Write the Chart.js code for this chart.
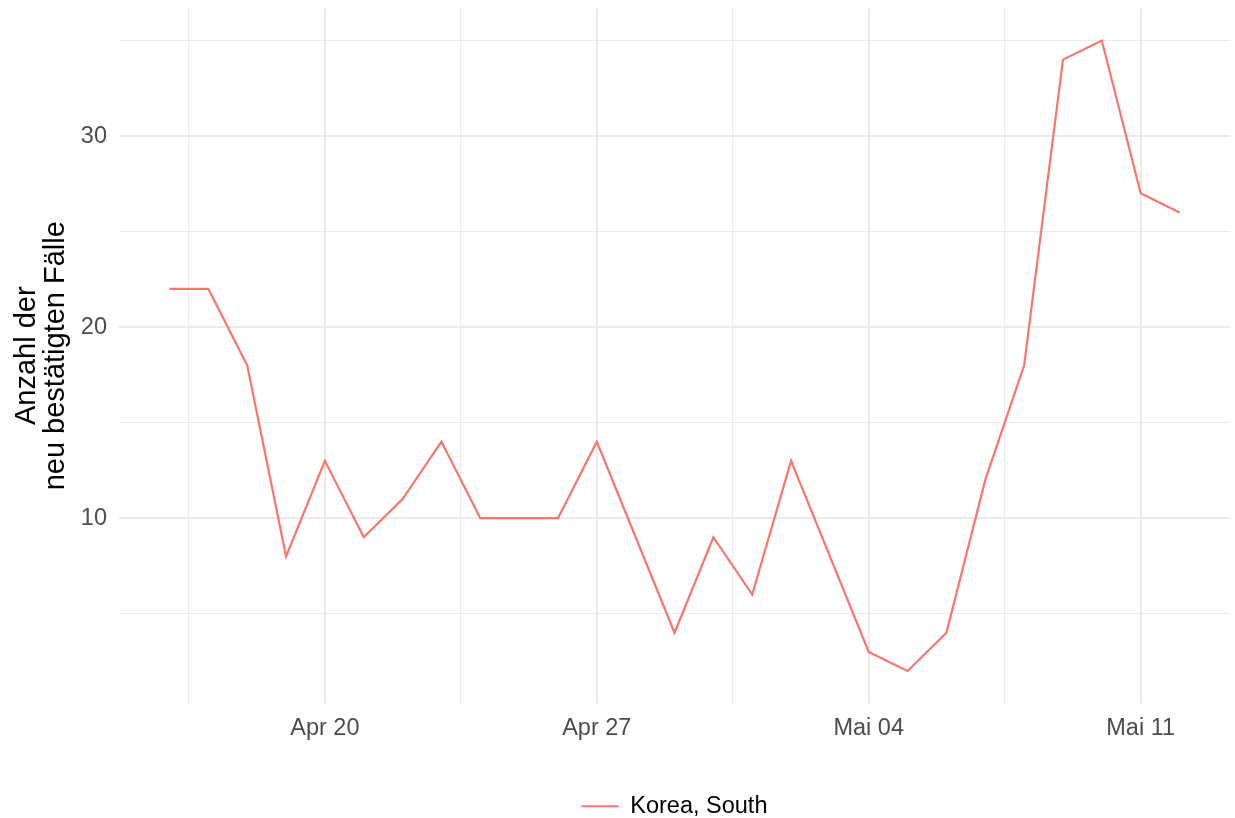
<!DOCTYPE html>
<html>
<head>
<meta charset="utf-8">
<script src="https://cdn.jsdelivr.net/npm/chart.js@4"></script>
<style>
  html, body { margin: 0; padding: 0; background: #ffffff; }
  #wrap { width: 1235px; height: 818px; }
</style>
</head>
<body>
<div id="wrap"><canvas id="chart" width="1235" height="818"></canvas></div>
<script>
// daily new confirmed cases, Korea, South
const dates = [
    "2020-04-16", "2020-04-17", "2020-04-18", "2020-04-19", "2020-04-20",
    "2020-04-21", "2020-04-22", "2020-04-23", "2020-04-24", "2020-04-25",
    "2020-04-26", "2020-04-27", "2020-04-28", "2020-04-29", "2020-04-30",
    "2020-05-01", "2020-05-02", "2020-05-03", "2020-05-04", "2020-05-05",
    "2020-05-06", "2020-05-07", "2020-05-08", "2020-05-09", "2020-05-10",
    "2020-05-11", "2020-05-12"
];
const newCases = [
    22, 22, 18, 8, 13,
    9, 11, 14, 10, 10,
    10, 14, 9, 4, 9,
    6, 13, 8, 3, 2,
    4, 12, 18, 34, 35,
    27, 26
];
const seriesName = "Korea, South";

// x ticks (major with labels, minor in between)
const xTickDates = ["2020-04-20", "2020-04-27", "2020-05-04", "2020-05-11"];
const xTickLabels = ["Apr 20", "Apr 27", "Mai 04", "Mai 11"];
const yMajorTicks = [10, 20, 30];
const yMinorTicks = [5, 15, 25, 35];

// days counted from 2020-04-00 so that Apr 20 = 20
const BASE = Date.UTC(2020, 3, 0);
function dayNum(s) {
    const p = s.split("-").map(Number);
    return (Date.UTC(p[0], p[1] - 1, p[2]) - BASE) / 86400000;
}

const xMajor = xTickDates.map(dayNum);
const xMinor = xMajor.map(d => d - 3.5);
const points = dates.map((d, i) => ({ x: dayNum(d), y: newCases[i] }));

// ggplot-like 5% expansion of both axes
const xs = points.map(p => p.x), ys = points.map(p => p.y);
const xPad = (Math.max(...xs) - Math.min(...xs)) * 0.05;
const yPad = (Math.max(...ys) - Math.min(...ys)) * 0.05;

const LINE = "#F8766D";
const GRID = "#ebebeb";
const FONT = "'Liberation Sans', Arial, sans-serif";

new Chart(document.getElementById("chart"), {
    type: "line",
    data: {
        datasets: [{
            label: seriesName,
            data: points,
            borderColor: LINE,
            backgroundColor: LINE,
            borderWidth: 2.2,
            pointRadius: 0,
            tension: 0,
            fill: false
        }]
    },
    options: {
        responsive: false,
        animation: false,
        devicePixelRatio: 1,
        layout: { padding: { top: 9, right: 5, left: 0, bottom: -10 } },
        plugins: {
            tooltip: { enabled: false },
            legend: {
                position: "bottom",
                fullSize: false,
                labels: {
                    usePointStyle: true,
                    pointStyle: "line",
                    pointStyleWidth: 37,
                    color: "#000000",
                    font: { family: FONT, size: 23.5 },
                    padding: 14
                }
            }
        },
        scales: {
            x: {
                type: "linear",
                min: Math.min(...xs) - xPad,
                max: Math.max(...xs) + xPad,
                afterBuildTicks: function(scale) {
                    scale.ticks = xMinor.concat(xMajor).sort((a, b) => a - b)
                        .map(v => ({ value: v }));
                },
                afterFit: function(scale) {
                    scale.height = 78;
                    scale.paddingLeft = 0;
                    scale.paddingRight = 0;
                },
                border: { display: false },
                grid: {
                    color: GRID,
                    drawTicks: false,
                    lineWidth: ctx => xMajor.includes(ctx.tick.value) ? 2.1 : 1.1
                },
                ticks: {
                    autoSkip: false,
                    maxRotation: 0,
                    padding: 12,
                    color: "#4d4d4d",
                    font: { family: FONT, size: 23.5 },
                    callback: function(value) {
                        const i = xMajor.indexOf(value);
                        return i >= 0 ? xTickLabels[i] : "";
                    }
                }
            },
            y: {
                type: "linear",
                min: Math.min(...ys) - yPad,
                max: Math.max(...ys) + yPad,
                afterBuildTicks: function(scale) {
                    scale.ticks = yMinorTicks.concat(yMajorTicks).sort((a, b) => a - b)
                        .map(v => ({ value: v }));
                },
                afterFit: function(scale) {
                    scale.width = 119;
                    scale.paddingTop = 0;
                    scale.paddingBottom = 0;
                },
                border: { display: false },
                grid: {
                    color: GRID,
                    drawTicks: false,
                    lineWidth: ctx => yMajorTicks.includes(ctx.tick.value) ? 2.1 : 1.1
                },
                ticks: {
                    padding: 12,
                    color: "#4d4d4d",
                    font: { family: FONT, size: 23.5 },
                    callback: function(value) {
                        return yMajorTicks.includes(value) ? String(value) : "";
                    }
                },
                title: {
                    display: true,
                    text: ["Anzahl der", "neu bestätigten Fälle"],
                    color: "#000000",
                    font: { family: FONT, size: 29, lineHeight: 1.0 },
                    padding: { top: 12, bottom: 0 }
                }
            }
        }
    }
});
</script>
</body>
</html>
